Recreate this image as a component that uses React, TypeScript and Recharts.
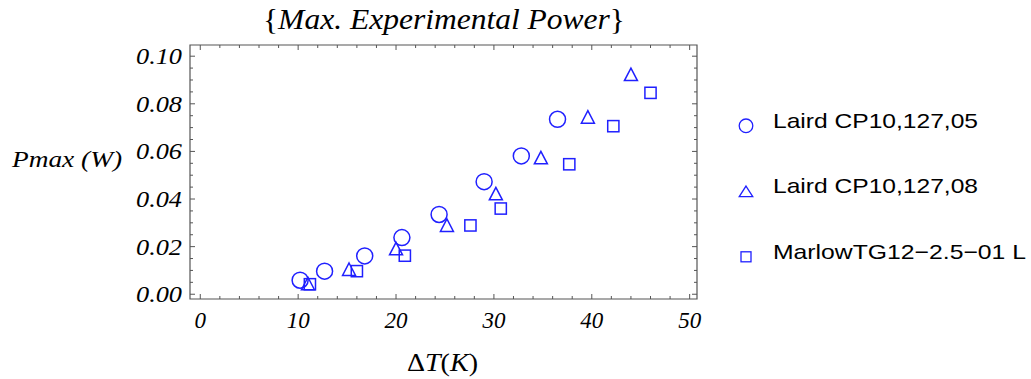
import { ScatterChart, Scatter, XAxis, YAxis, ReferenceArea } from "recharts";

// ΔT in K, Pmax in W
const lairdC05DeltaT = [10.2, 12.7, 16.8, 20.6, 24.4, 29.0, 32.8, 36.5];
const lairdC05Power = [0.0059, 0.0097, 0.0161, 0.0238, 0.0335, 0.0473, 0.0581, 0.0735];
const lairdC08DeltaT = [11.0, 15.2, 20.0, 25.2, 30.2, 34.8, 39.6, 44.0];
const lairdC08Power = [0.0045, 0.0105, 0.0192, 0.029, 0.0423, 0.0574, 0.0745, 0.0924];
const marlowDeltaT = [11.2, 16.0, 20.9, 27.6, 30.7, 37.7, 42.2, 46.0];
const marlowPower = [0.0042, 0.0097, 0.0162, 0.0289, 0.036, 0.0546, 0.0706, 0.0846];

const X_TICKS = [0, 2, 4, 6, 8, 10, 12, 14, 16, 18, 20, 22, 24, 26, 28, 30, 32, 34, 36, 38, 40, 42, 44, 46, 48, 50];
const X_MAJOR = [0, 10, 20, 30, 40, 50];
const Y_TICKS = [
  0, 0.005, 0.01, 0.015, 0.02, 0.025, 0.03, 0.035, 0.04, 0.045, 0.05,
  0.055, 0.06, 0.065, 0.07, 0.075, 0.08, 0.085, 0.09, 0.095, 0.1,
];
const Y_MAJOR = [0, 0.02, 0.04, 0.06, 0.08, 0.1];
const Y_MAJOR_LABELS = ["0.00", "0.02", "0.04", "0.06", "0.08", "0.10"];

const X_DOMAIN: [number, number] = [-1.05, 50.75];
const Y_DOMAIN: [number, number] = [-0.002, 0.1047];

const W = 1031;
const H = 379;
const FRAME = { left: 190, right: 697, top: 45, bottom: 299 };
const X_AXIS_H = 40;
const Y_AXIS_W = 60;
const FRAME_COLOR = "#555555";
const BLUE = "#2020ff";
const SERIF = "'Liberation Serif', 'Times New Roman', serif";
const SANS = "'Liberation Sans', Arial, sans-serif";

type Kind = "circle" | "triangle" | "square";

const toPoints = (xs: number[], ys: number[]) => xs.map((x, i) => ({ x, y: ys[i] }));

const SERIES: { name: string; kind: Kind; data: { x: number; y: number }[] }[] = [
  { name: "Laird CP10,127,05", kind: "circle", data: toPoints(lairdC05DeltaT, lairdC05Power) },
  { name: "Laird CP10,127,08", kind: "triangle", data: toPoints(lairdC08DeltaT, lairdC08Power) },
  { name: "MarlowTG12\u22122.5\u221201 L", kind: "square", data: toPoints(marlowDeltaT, marlowPower) },
];
const LEGEND_TEXT_WIDTHS = [205, 205, 253];

const marker = (kind: Kind, cx: number, cy: number, legend = false) => {
  const sw = legend ? 1.3 : 1.5;
  if (kind === "circle") {
    const r = legend ? 6.8 : 8;
    return <circle cx={cx} cy={cy} r={r} fill="none" stroke={BLUE} strokeWidth={sw} />;
  }
  if (kind === "triangle") {
    const w = legend ? 13.5 : 13;
    const h = legend ? 10.5 : 12.5;
    const pts = `${cx},${cy - h / 2} ${cx + w / 2},${cy + h / 2} ${cx - w / 2},${cy + h / 2}`;
    return <polygon points={pts} fill="none" stroke={BLUE} strokeWidth={sw} strokeLinejoin="miter" />;
  }
  const s = legend ? 10 : 11.2;
  return <rect x={cx - s / 2} y={cy - s / 2} width={s} height={s} fill="none" stroke={BLUE} strokeWidth={sw} />;
};

const renderXTick = (props: any) => {
  const { x, payload } = props;
  const v = payload.value as number;
  const major = X_MAJOR.includes(v);
  const len = major ? 5 : 3;
  return (
    <g>
      <line x1={x} x2={x} y1={FRAME.bottom} y2={FRAME.bottom - len} stroke={FRAME_COLOR} />
      <line x1={x} x2={x} y1={FRAME.top} y2={FRAME.top + len} stroke={FRAME_COLOR} />
      {major && (
        <text x={x} y={328} textAnchor="middle" fontFamily={SERIF} fontStyle="italic" fontSize={23} fill="#000">
          {String(v)}
        </text>
      )}
    </g>
  );
};

const renderYTick = (props: any) => {
  const { y, payload } = props;
  const v = payload.value as number;
  const idx = Y_MAJOR.findIndex((m) => Math.abs(m - v) < 1e-9);
  const major = idx >= 0;
  const len = major ? 5 : 3;
  return (
    <g>
      <line x1={FRAME.left} x2={FRAME.left + len} y1={y} y2={y} stroke={FRAME_COLOR} />
      <line x1={FRAME.right} x2={FRAME.right - len} y1={y} y2={y} stroke={FRAME_COLOR} />
      {major && (
        <text
          x={182}
          y={y + 8}
          textAnchor="end"
          fontFamily={SERIF}
          fontStyle="italic"
          fontSize={23}
          fill="#000"
          textLength={46}
          lengthAdjust="spacingAndGlyphs"
        >
          {Y_MAJOR_LABELS[idx]}
        </text>
      )}
    </g>
  );
};

export default function App() {
  return (
    <div style={{ position: "absolute", left: 0, top: 0, width: W, height: H, background: "#fff" }}>
      <ScatterChart
        width={W}
        height={H}
        margin={{
          top: FRAME.top,
          right: W - FRAME.right,
          bottom: H - FRAME.bottom - X_AXIS_H,
          left: FRAME.left - Y_AXIS_W,
        }}
      >
        <XAxis
          xAxisId="b"
          type="number"
          dataKey="x"
          domain={X_DOMAIN}
          allowDataOverflow
          ticks={X_TICKS}
          interval={0}
          height={X_AXIS_H}
          axisLine={false}
          tickLine={false}
          tick={renderXTick}
        />
        <YAxis
          yAxisId="l"
          type="number"
          dataKey="y"
          domain={Y_DOMAIN}
          allowDataOverflow
          ticks={Y_TICKS}
          interval={0}
          width={Y_AXIS_W}
          axisLine={false}
          tickLine={false}
          tick={renderYTick}
        />
        <ReferenceArea
          xAxisId="b"
          yAxisId="l"
          x1={X_DOMAIN[0]}
          x2={X_DOMAIN[1]}
          y1={Y_DOMAIN[0]}
          y2={Y_DOMAIN[1]}
          fill="none"
          stroke={FRAME_COLOR}
          strokeWidth={1.2}
          ifOverflow="visible"
        />
        {SERIES.map((s) => (
          <Scatter
            key={s.name}
            name={s.name}
            xAxisId="b"
            yAxisId="l"
            data={s.data}
            isAnimationActive={false}
            shape={(p: any) => marker(s.kind, p.cx, p.cy)}
          />
        ))}
      </ScatterChart>

      <svg
        width={W}
        height={H}
        style={{ position: "absolute", left: 0, top: 0, pointerEvents: "none" }}
      >
        <text x={263} y={29} fontFamily={SERIF} fontSize={30} fill="#000" textLength={362} lengthAdjust="spacingAndGlyphs">
          <tspan>{"{"}</tspan>
          <tspan fontStyle="italic">Max. Experimental Power</tspan>
          <tspan>{"}"}</tspan>
        </text>
        <text x={12} y={167} fontFamily={SERIF} fontStyle="italic" fontSize={24} fill="#000" textLength={110} lengthAdjust="spacingAndGlyphs">
          Pmax (W)
        </text>
        <text x={407} y={371} fontFamily={SERIF} fontSize={26} fill="#000" textLength={71} lengthAdjust="spacingAndGlyphs">
          <tspan>Δ</tspan>
          <tspan fontStyle="italic">T</tspan>
          <tspan>(</tspan>
          <tspan fontStyle="italic">K</tspan>
          <tspan>)</tspan>
        </text>
        {SERIES.map((s, i) => {
          const cy = 125.8 + i * 65.5;
          return (
            <g key={s.name}>
              {marker(s.kind, 746, cy, true)}
              <text
                x={773}
                y={cy + 2}
                fontFamily={SANS}
                fontSize={21}
                fill="#000"
                textLength={LEGEND_TEXT_WIDTHS[i]}
                lengthAdjust="spacingAndGlyphs"
              >
                {s.name}
              </text>
            </g>
          );
        })}
      </svg>
    </div>
  );
}
